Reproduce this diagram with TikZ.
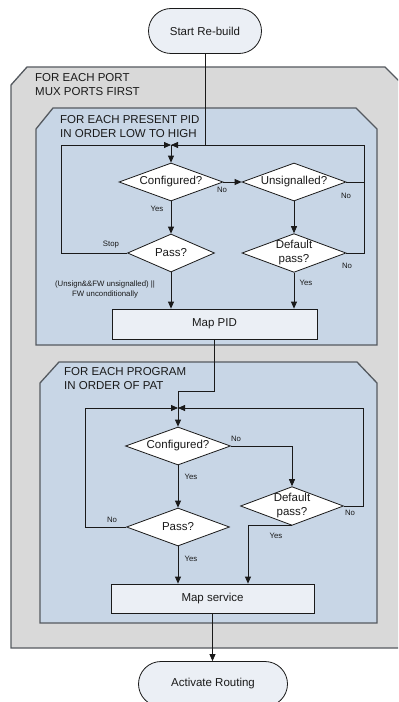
\documentclass[tikz,border=0pt]{standalone}
\usepackage{fontspec}
\setmainfont{Liberation Sans}
\usetikzlibrary{shapes.geometric,shapes.misc,arrows.meta}
\definecolor{panelgray}{HTML}{D9D9D9}
\definecolor{panelblue}{HTML}{C8D6E6}
\definecolor{boxfill}{HTML}{EBEFF5}
\definecolor{edgegray}{HTML}{555A60}
\definecolor{ink}{HTML}{1A1A1A}
\begin{document}
\begin{tikzpicture}[x=1bp,y=-1bp,
  every node/.style={font=\fontsize{11.5bp}{14bp}\selectfont, text=ink},
  terminal/.style={rounded rectangle, draw=ink, line width=0.8bp, fill=boxfill,
    minimum width=#1, minimum height=45bp, inner sep=0pt},
  decision/.style={diamond, draw=ink, line width=0.8bp, fill=white, aspect=2.8,
    inner sep=0pt, align=center, minimum height=38bp},
  process/.style={rectangle, draw=ink, line width=0.8bp, fill=boxfill, inner sep=0pt},
  panel/.style={draw=edgegray, line width=1.3bp},
  heading/.style={anchor=north west, align=left, inner sep=0pt},
  tag/.style={font=\fontsize{7.8bp}{10bp}\selectfont, inner sep=0pt, align=center},
  flow/.style={draw=ink, line width=0.8bp, -{Triangle[length=7bp,width=6bp]}},
  wire/.style={draw=ink, line width=0.8bp},
]
\useasboundingbox (0,0) rectangle (398,702);
\begin{scope}
\clip (0,0) rectangle (398,702);

% loop panels
\path[panel, fill=panelgray] (11,85) -- (27,67) -- (385,67) -- (405,87) -- (405,648) -- (11,648) -- cycle;
\path[panel, fill=panelblue] (36,129) -- (53,108) -- (356,108) -- (377,129) -- (377,345) -- (36,345) -- cycle;
\path[panel, fill=panelblue] (40,383) -- (59,362) -- (357,362) -- (377,383) -- (377,623) -- (40,623) -- cycle;

\node[heading] (hport) at (35,73) {FOR EACH PORT\\MUX PORTS FIRST};
\node[heading] (hpid) at (60,115) {FOR EACH PRESENT PID\\IN ORDER LOW TO HIGH};
\node[heading] (hprog) at (64,367) {FOR EACH PROGRAM\\IN ORDER OF PAT};

% terminals and steps
\node[terminal=113bp] (start) at (205,31) {Start Re-build};
\node[terminal=149bp] (act) at (213,684) {Activate Routing};

\node[decision, minimum width=104bp] (cfg1) at (171,182) {Configured?};
\node[decision, minimum width=104bp] (uns) at (294,182) {Unsignalled?};
\node[decision, minimum width=87bp] (pass1) at (171,253) {Pass?};
\node[decision, minimum width=104bp, aspect=2.6] (dp1) at (294,253) {Default\\pass?};
\node[process, minimum width=205bp, minimum height=30bp] (mappid) at (214.5,324) {Map PID};

\node[decision, minimum width=105bp] (cfg2) at (178,446) {Configured?};
\node[decision, minimum width=103bp, aspect=2.6] (dp2) at (292,506) {Default\\pass?};
\node[decision, minimum width=103bp] (pass2) at (178,527) {Pass?};
\node[process, minimum width=203bp, minimum height=29bp] (ms) at (212.5,598.5) {Map service};

% routing points
\coordinate (join1) at (171,145);
\coordinate (l1) at (61,145);
\coordinate (r1) at (364,145);
\coordinate (join2) at (178,408);
\coordinate (l2) at (85,408);
\coordinate (r2) at (363,408);
\coordinate (bend) at (178,391);
\coordinate (yesx) at (248,0);

% PID loop
\draw[flow] (start.south) |- (join1);
\draw[wire] (uns.east) -| (r1);
\draw[wire] (dp1.east) -| (r1) -- (join1);
\draw[flow] (pass1.west) -| (l1) -- (join1);
\draw[flow] (join1) -- (cfg1.north);
\draw[flow] (cfg1.east) -- (uns.west);
\draw[flow] (cfg1.south) -- (pass1.north);
\draw[flow] (uns.south) -- (dp1.north);
\draw[flow] (pass1.south) -- (pass1.south |- mappid.north);
\draw[flow] (dp1.south) -- (dp1.south |- mappid.north);

% program loop
\draw[wire] (mappid.south) |- (bend) -- (join2);
\draw[flow] (pass2.west) -| (l2) -- (join2);
\draw[flow] (dp2.east) -| (r2) -- (join2);
\draw[flow] (join2) -- (cfg2.north);
\draw[flow] (cfg2.east) -| (dp2.north);
\draw[flow] (cfg2.south) -- (pass2.north);
\draw[flow] (pass2.south) -- (pass2.south |- ms.north);
\draw[flow] (dp2.south) -| (yesx |- ms.north);
\draw[flow] (ms.south) -- (ms.south |- act.north);

% branch labels
\node[tag] (t1) at (222,190) {No};
\node[tag] (t2) at (346,196) {No};
\node[tag] (t3) at (157,209) {Yes};
\node[tag] (t4) at (111,245) {Stop};
\node[tag] (t5) at (347,266) {No};
\node[tag] (t6) at (105,289) {(Unsign\&\&FW unsignalled) ||\\FW unconditionally};
\node[tag] (t7) at (306,283) {Yes};
\node[tag] (t8) at (236,439) {No};
\node[tag] (t9) at (191,477) {Yes};
\node[tag] (t10) at (350,513) {No};
\node[tag] (t11) at (112,520) {No};
\node[tag] (t12) at (276,536) {Yes};
\node[tag] (t13) at (191,559) {Yes};
\end{scope}
\end{tikzpicture}
\end{document}
